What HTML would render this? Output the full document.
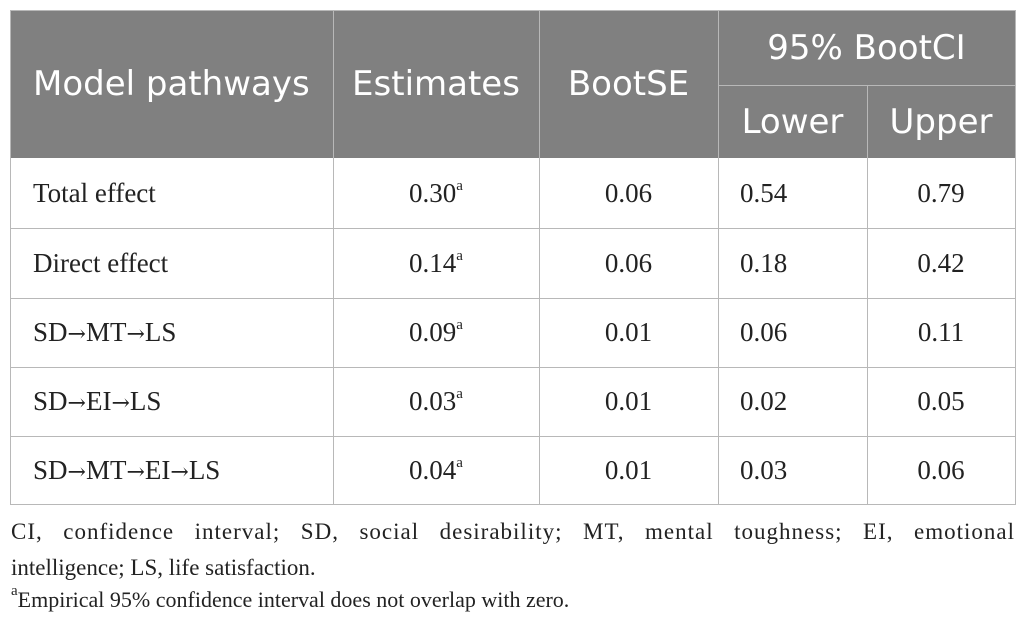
<!DOCTYPE html>
<html><head><meta charset="utf-8"><style>
body{margin:0;width:1026px;height:629px;background:#fff;position:relative;overflow:hidden}
.c{position:absolute;box-sizing:border-box;display:flex;align-items:center}
.h{background:#808080;color:#fff;font-family:"DejaVu Sans","Liberation Sans",sans-serif;font-size:34px;justify-content:center}
.d{font-family:"Liberation Serif","DejaVu Serif",serif;font-size:27px;color:#222}
.vl{position:absolute;width:1px;background:#b8b8b8}
.hl{position:absolute;height:1px;background:#b8b8b8}
sup{font-size:15px;vertical-align:12px;line-height:0}
.ar{font-family:"DejaVu Serif",serif;font-size:22px}
.fn{position:absolute;left:11px;width:1004px;font-family:"Liberation Serif","DejaVu Serif",serif;font-size:22px;color:#222;line-height:36px;white-space:nowrap}
.j{text-align:justify;text-align-last:justify;white-space:normal;font-size:23px;letter-spacing:1px}
</style></head><body>
<div>
<div class="c h" style="left:11px;top:10px;width:322px;height:148px;justify-content:flex-start;padding-left:22px">Model pathways</div>
<div class="c h" style="left:333px;top:10px;width:206px;height:148px">Estimates</div>
<div class="c h" style="left:539px;top:10px;width:179px;height:148px">BootSE</div>
<div class="c h" style="left:718px;top:10px;width:297px;height:75px">95% BootCI</div>
<div class="c h" style="left:718px;top:85px;width:149px;height:73px">Lower</div>
<div class="c h" style="left:867px;top:85px;width:148px;height:73px">Upper</div>
<div id="rows"></div>
<div class="hl" style="left:10px;top:10px;width:1006px"></div>
<div class="hl" style="left:10px;top:504px;width:1006px"></div>
<div class="hl" style="left:718px;top:85px;width:297px"></div>
<div class="vl" style="left:10px;top:10px;height:495px"></div>
<div class="vl" style="left:1015px;top:10px;height:495px"></div>
<div class="vl" style="left:333px;top:10px;height:495px"></div>
<div class="vl" style="left:539px;top:10px;height:495px"></div>
<div class="vl" style="left:718px;top:10px;height:495px"></div>
<div class="vl" style="left:867px;top:85px;height:420px"></div>
</div>
<div>
<div class="fn j" style="top:514px">CI, confidence interval; SD, social desirability; MT, mental toughness; EI, emotional</div>
<div class="fn" style="top:550px;font-size:23px">intelligence; LS, life satisfaction.</div>
</div>
<div class="fn" style="top:582px"><sup>a</sup>Empirical 95% confidence interval does not overlap with zero.</div>
<script>
const pathways=["Total effect","Direct effect","SD\u2192MT\u2192LS","SD\u2192EI\u2192LS","SD\u2192MT\u2192EI\u2192LS"];
const estimates=["0.30","0.14","0.09","0.03","0.04"];
const bootSE=["0.06","0.06","0.01","0.01","0.01"];
const lower=["0.54","0.18","0.06","0.02","0.03"];
const upper=["0.79","0.42","0.11","0.05","0.06"];
const rows=document.getElementById('rows');
const tops=[158,228,298,367,436,504];
function cell(l,w,t,h,html,just,pad,name){
  const e=document.createElement('div');
  e.className='c d';
  e.style.cssText=`left:${l}px;top:${t}px;width:${w}px;height:${h}px;justify-content:${just};padding-left:${pad}px`;
  e.innerHTML='<span>'+html+'</span>';
  
  
  rows.appendChild(e);
}
pathways.forEach((p,i)=>{
  const t=tops[i],h=tops[i+1]-tops[i];
  cell(11,322,t,h,p.replace(/\u2192/g,'<span class="ar">\u2192</span>'),'flex-start',22,'pathway-label');
  cell(333,206,t,h,estimates[i]+'<sup>a</sup>','center',0,'estimate-value');
  cell(539,179,t,h,bootSE[i],'center',0,'bootse-value');
  cell(718,149,t,h,lower[i],'flex-start',22,'ci-lower-value');
  cell(867,148,t,h,upper[i],'center',0,'ci-upper-value');
  if(i>0){const l=document.createElement('div');l.className='hl';l.style.cssText=`left:10px;top:${t}px;width:1006px`;
  
  
  rows.appendChild(l);}
});
</script>
</body></html>
